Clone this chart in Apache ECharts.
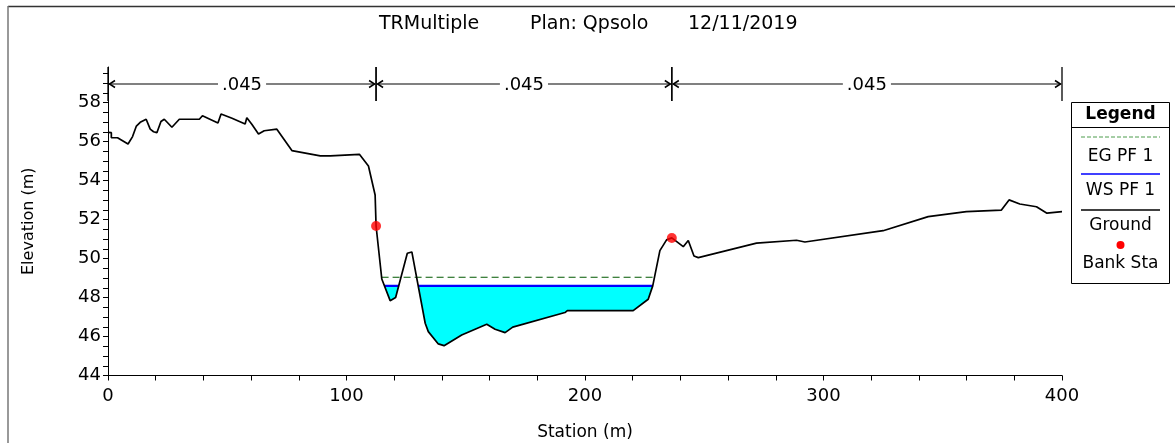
<!DOCTYPE html>
<html><head><meta charset="utf-8">
<script src="https://cdn.jsdelivr.net/npm/echarts@6/dist/echarts.min.js"></script>
<style>html,body{margin:0;padding:0;background:#fff}#c{width:1175px;height:443px}</style>
</head><body><div id="c"></div>
<script>
// ---- data ----
const stations = [0, 1.4, 1.4, 4.0, 8.4, 10.3, 11.9, 13.5, 16.0, 17.7, 19.1, 20.5, 22.2, 23.6, 26.8, 29.9, 38.3, 39.6, 46.1, 47.4, 52.0, 57.5, 58.2, 60.3, 63.1, 65.5, 70.8, 77.1, 89.0, 93.2, 105.4, 109.2, 112.0, 112.4, 114.8, 118.3, 120.6, 125.5, 127.4, 133.0, 134.3, 138.5, 140.9, 148.3, 158.8, 162.3, 166.5, 169.7, 191.6, 192.6, 220.2, 226.5, 228.4, 231.4, 234.2, 236.4, 241.2, 243.3, 245.7, 247.5, 271.9, 288.7, 292.2, 325.0, 343.9, 359.9, 374.6, 377.8, 382.3, 389.3, 393.7, 400];
const elevations = [56.48, 56.46, 56.20, 56.20, 55.88, 56.26, 56.80, 56.99, 57.15, 56.64, 56.51, 56.46, 57.03, 57.15, 56.74, 57.15, 57.15, 57.33, 56.96, 57.42, 57.20, 56.91, 57.23, 56.89, 56.39, 56.56, 56.64, 55.54, 55.27, 55.27, 55.35, 54.75, 53.26, 51.67, 48.95, 47.84, 48.00, 50.27, 50.34, 46.68, 46.25, 45.62, 45.53, 46.08, 46.63, 46.37, 46.20, 46.48, 47.23, 47.33, 47.33, 47.91, 48.60, 50.41, 50.96, 51.06, 50.61, 50.93, 50.13, 50.05, 50.79, 50.94, 50.85, 51.43, 52.15, 52.41, 52.49, 53.01, 52.80, 52.66, 52.33, 52.41];
const bankStations = [112.4, 236.4];
const bankElevations = [51.67, 51.06];
const wsElevation = 48.60;
const egElevation = 49.04;
const nBoundaries = [0, 112.4, 236.4, 400];
const nValues = ['.045', '.045', '.045'];
const xTickLabels = [0, 100, 200, 300, 400];
const yTickLabels = [44, 46, 48, 50, 52, 54, 56, 58];
const titleParts = ['TRMultiple', 'Plan: Qpsolo', '12/11/2019'];
const legendItems = ['EG PF 1', 'WS PF 1', 'Ground', 'Bank Sta'];
const X_MIN = 0, X_MAX = 400, Y_MIN = 44, Y_MAX = 59.83;

const FONT = 'DejaVu Sans';
const ground = stations.map((s, i) => [s, elevations[i]]);
const banks = bankStations.map((s, i) => [s, bankElevations[i]]);

// regions of ground lying below a level (polygons bounded by the level line)
function pockets(level) {
  const out = []; let cur = null;
  for (let i = 0; i < ground.length - 1; i++) {
    const [x0, y0] = ground[i], [x1, y1] = ground[i + 1];
    const b0 = y0 < level, b1 = y1 < level;
    if (b0 && !cur) cur = [[x0, y0]];
    if (b0 !== b1) {
      const t = (level - y0) / (y1 - y0);
      const xc = x0 + t * (x1 - x0);
      if (!b0) { cur = [[xc, level]]; }
      else { cur.push([xc, level]); out.push(cur); cur = null; continue; }
    }
    if (b1) cur.push([x1, y1]);
  }
  if (cur) out.push(cur);
  return out;
}
const wsPockets = pockets(wsElevation);
const egPockets = pockets(egElevation);
const egLine = [[egPockets[0][0][0], egElevation], [egPockets[egPockets.length - 1].slice(-1)[0][0], egElevation]];

const xTickVals = []; for (let v = X_MIN; v <= X_MAX; v += 20) xTickVals.push(v);
const yTickVals = []; for (let v = Y_MIN; v < Y_MAX; v += 0.5) yTickVals.push(v);

const chart = echarts.init(document.getElementById('c'), null, {renderer: 'canvas'});
const titleLefts = [379, 530, 688];
const legendText = (t, y) => ({type: 'text', x: 1120.5, y: y, style: {text: t, fontFamily: FONT, fontSize: 17, fill: '#000', textAlign: 'center', textVerticalAlign: 'middle', align: 'center', verticalAlign: 'middle'}});

const option = {
  animation: false,
  backgroundColor: '#fff',
  textStyle: {fontFamily: FONT},
  title: titleParts.map((t, i) => ({text: t, left: titleLefts[i], top: 15, padding: 0,
    textStyle: {fontFamily: FONT, fontSize: 19, fontWeight: 'normal', color: '#000'}})),
  grid: {left: 108, right: 113, top: 67, bottom: 67.5, containLabel: false, outerBoundsMode: 'none'},
  xAxis: {
    type: 'value', min: X_MIN, max: X_MAX, interval: 100,
    name: 'Station (m)', nameLocation: 'middle', nameGap: 49,
    nameTextStyle: {fontFamily: FONT, fontSize: 17, color: '#000'},
    axisLine: {onZero: false, lineStyle: {color: '#000', width: 1}},
    axisTick: {show: true, length: 5, customValues: xTickVals, lineStyle: {color: '#000'}},
    axisLabel: {fontFamily: FONT, fontSize: 18, color: '#000', margin: 12, customValues: xTickLabels},
    splitLine: {show: false}
  },
  yAxis: {
    type: 'value', min: Y_MIN, max: Y_MAX, interval: 2,
    name: 'Elevation (m)', nameLocation: 'middle', nameGap: 71,
    nameTextStyle: {fontFamily: FONT, fontSize: 16, color: '#000'},
    axisLine: {show: true, onZero: false, lineStyle: {color: '#000', width: 1}},
    axisTick: {show: true, length: 5, customValues: yTickVals, lineStyle: {color: '#000'}},
    axisLabel: {fontFamily: FONT, fontSize: 18, color: '#000', margin: 7, padding: [4, 0, 0, 0], customValues: yTickLabels},
    splitLine: {show: false}
  },
  series: [
    { // water fill
      type: 'custom', z: 2, silent: true, clip: true,
      data: wsPockets.map(p => [p[0][0], wsElevation]),
      encode: {x: 0, y: 1},
      renderItem: (params, api) => {
        const poly = wsPockets[params.dataIndex].map(p => api.coord(p));
        const l = api.coord(wsPockets[params.dataIndex][0]);
        const r = api.coord(wsPockets[params.dataIndex].slice(-1)[0]);
        return {type: 'group', children: [
          {type: 'polygon', shape: {points: poly}, style: {fill: '#00ffff', stroke: null}},
          {type: 'line', shape: {x1: l[0], y1: l[1], x2: r[0], y2: r[1]}, style: {stroke: '#0000ff', lineWidth: 2.2}}
        ]};
      }
    },
    { // energy grade line
      type: 'line', z: 3, data: egLine, symbol: 'none', silent: true,
      lineStyle: {color: '#005a00', width: 1.1, type: [7, 4]}
    },
    { // ground
      type: 'line', z: 5, data: ground, symbol: 'none', silent: true,
      lineStyle: {color: '#000', width: 1.7}
    },
    { // bank stations
      type: 'scatter', z: 6, data: banks, symbol: 'circle', symbolSize: 10, silent: true,
      itemStyle: {color: '#ff0000'}
    },
    { // Manning's n markers
      type: 'custom', z: 4, silent: true, clip: false,
      data: nValues.map((v, i) => [nBoundaries[i], nBoundaries[i + 1]]),
      encode: {x: [0, 1]},
      renderItem: (params, api) => {
        const a = api.coord([api.value(0), Y_MAX]);
        const b = api.coord([api.value(1), Y_MAX]);
        const top = a[1];
        const yl = top + 17;
        const x0 = a[0], x1 = b[0];
        return {type: 'group', children: [
          {type: 'line', shape: {x1: x0 + 1, y1: yl, x2: x1 - 1, y2: yl}, style: {stroke: '#808080', lineWidth: 2}},
          {type: 'polyline', shape: {points: [[x0 + 7, yl - 3.5], [x0 + 1.5, yl], [x0 + 7, yl + 3.5]]}, style: {stroke: '#000', lineWidth: 1.5, fill: null}},
          {type: 'polyline', shape: {points: [[x1 - 7, yl - 3.5], [x1 - 1.5, yl], [x1 - 7, yl + 3.5]]}, style: {stroke: '#000', lineWidth: 1.5, fill: null}},
          {type: 'line', shape: {x1: x0, y1: top, x2: x0, y2: top + 34}, style: {stroke: '#000', lineWidth: 1.3}},
          {type: 'line', shape: {x1: x1, y1: top, x2: x1, y2: top + 34}, style: {stroke: '#000', lineWidth: 1.3}},
          {type: 'text', x: (x0 + x1) / 2, y: yl + 1, style: {text: nValues[params.dataIndex], fontFamily: FONT, fontSize: 18, fill: '#000',
            align: 'center', verticalAlign: 'middle', backgroundColor: '#fff', padding: [0, 4]}}
        ]};
      }
    }
  ],
  graphic: [
    {type: 'line', shape: {x1: 8, y1: 6.5, x2: 1175, y2: 6.5}, style: {stroke: '#333', lineWidth: 1.5}},
    {type: 'line', shape: {x1: 8, y1: 6, x2: 8, y2: 443}, style: {stroke: '#777', lineWidth: 1.5}},
    {type: 'rect', shape: {x: 1071.5, y: 102.5, width: 98, height: 181}, style: {fill: '#fff', stroke: '#000', lineWidth: 1}},
    {type: 'text', x: 1120.5, y: 115, style: {text: 'Legend', fontFamily: FONT, fontSize: 17, fontWeight: 'bold', fill: '#000', textAlign: 'center', textVerticalAlign: 'middle', align: 'center', verticalAlign: 'middle'}},
    {type: 'line', shape: {x1: 1071.5, y1: 127.5, x2: 1169.5, y2: 127.5}, style: {stroke: '#000', lineWidth: 1}},
    {type: 'line', shape: {x1: 1081, y1: 137, x2: 1160, y2: 137}, style: {stroke: '#4c9c4c', lineWidth: 1, lineDash: [4, 2]}},
    legendText(legendItems[0], 157),
    {type: 'line', shape: {x1: 1081, y1: 174, x2: 1160, y2: 174}, style: {stroke: '#0000ff', lineWidth: 1.5}},
    legendText(legendItems[1], 191),
    {type: 'line', shape: {x1: 1081, y1: 210, x2: 1160, y2: 210}, style: {stroke: '#000', lineWidth: 1.5}},
    legendText(legendItems[2], 226),
    {type: 'circle', shape: {cx: 1120.5, cy: 245, r: 4}, style: {fill: '#ff0000'}},
    legendText(legendItems[3], 264)
  ]
};
chart.setOption(option);
</script>
</body></html>
